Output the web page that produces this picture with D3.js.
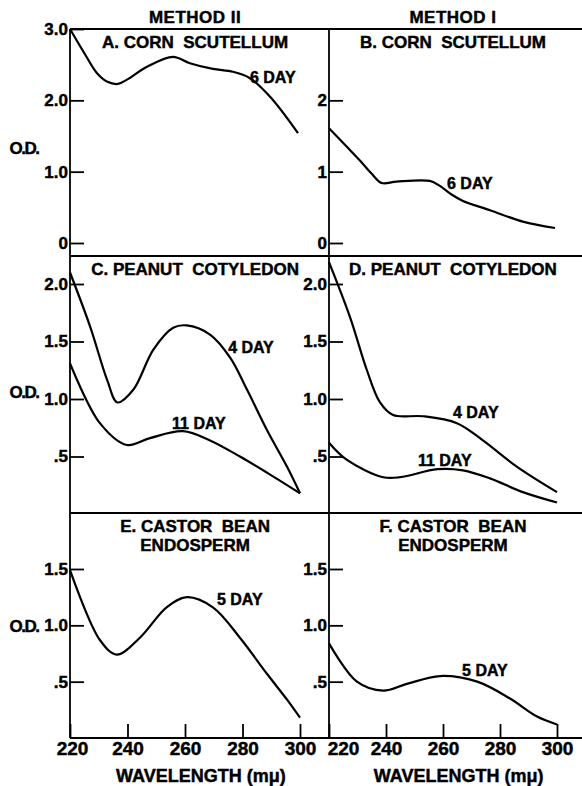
<!DOCTYPE html>
<html lang="en">
<head>
    <meta charset="UTF-8">
    <title>Absorption spectra - Method I and II</title>
    <script src="https://cdnjs.cloudflare.com/ajax/libs/d3/7.8.5/d3.min.js"></script>
    <style>
        body {
            margin: 0;
            background: #fff;
        }
        svg text {
            font-family: "Liberation Sans", Arial, sans-serif;
            font-weight: bold;
            fill: #000;
            stroke: #000;
            stroke-width: 0.45px;
        }
        .curve {
            fill: none;
            stroke: #000;
            stroke-width: 2.2px;
            stroke-linejoin: round;
        }
        .frame {
            stroke: #000;
            stroke-width: 1.8px;
        }
    </style>
</head>
<body>
    <svg id="chart" width="582" height="786"></svg>

    <script>
        // wavelength (m\u03bc) vs optical density
        const wavelengthTicks = [220, 240, 260, 280, 300];

        const cornMethod2Day6 = [[220, 3.0], [225, 2.66], [229.4, 2.38], [233, 2.26], [236.7, 2.23], [239.8, 2.29], [246.8, 2.47], [255.8, 2.61],
            [261.7, 2.52], [269.7, 2.44], [276.7, 2.40], [282.6, 2.31], [289.6, 2.05], [299.3, 1.54]];
        const cornMethod1Day6 = [[220, 1.61], [226, 1.36], [231, 1.15], [235, 0.97], [238.5, 0.84], [243.7, 0.86], [255.4, 0.87],
            [258.9, 0.80], [263, 0.68], [267, 0.59], [276.5, 0.46], [288, 0.30], [299.3, 0.21]];

        const peanutMethod2Day4 = [[220, 2.10], [227, 1.63], [233, 1.16], [236.5, 0.97], [242, 1.08], [249, 1.43],
            [255.9, 1.62], [260.6, 1.64], [268.7, 1.56], [275.7, 1.36], [281.6, 1.08], [288.5, 0.73], [295.5, 0.41], [300, 0.18]];
        const peanutMethod2Day11 = [[220, 1.31], [230.4, 0.79], [239.8, 0.60], [247.8, 0.66], [259.3, 0.72], [268.7, 0.64],
            [279.1, 0.50], [288.5, 0.36], [300, 0.18]];
        const peanutMethod1Day4 = [[220, 2.19], [227.4, 1.71], [233.3, 1.25], [237.9, 0.97], [242.5, 0.86], [253, 0.85],
            [264.9, 0.79], [274, 0.64], [286, 0.41], [300, 0.19]];
        const peanutMethod1Day11 = [[220, 0.62], [226.3, 0.47], [239, 0.32], [245, 0.32], [258, 0.39], [267, 0.38],
            [276.5, 0.31], [288, 0.19], [300, 0.10]];

        const castorMethod2Day5 = [[220, 1.49], [230.4, 0.87], [236.3, 0.74], [244.3, 0.89], [253.6, 1.16], [260.6, 1.25],
            [269.7, 1.16], [279.1, 0.89], [288.5, 0.57], [295.5, 0.34], [300, 0.18]];
        const castorMethod1Day5 = [[220, 0.84], [229.8, 0.50], [239, 0.42], [247.3, 0.48], [259, 0.55], [272, 0.50],
            [283.5, 0.35], [293, 0.19], [300, 0.12]];

        const methodTitles = ["METHOD II", "METHOD I"];

        const svg = d3.select("#chart");

        const columns = [
            d3.scaleLinear().domain([220, 300]).range([70, 300]),
            d3.scaleLinear().domain([220, 300]).range([329, 557])
        ];
        const rows = [
            { y: d3.scaleLinear().domain([0, 3]).range([243, 29]), top: 29, bottom: 256 },
            { y: d3.scaleLinear().domain([0, 2]).range([514, 284]), top: 256, bottom: 513 },
            { y: d3.scaleLinear().domain([0, 1.5]).range([738, 569]), top: 513, bottom: 738 }
        ];

        const panels = [
            { col: 0, row: 0, title: ["A. CORN  SCUTELLUM"], od: 1.33, ticks: [0, 1, 2, 3], fmt: d => d.toFixed(1).replace("0.0", "0"),
              series: [{ data: cornMethod2Day6, label: "6 DAY", at: [282.6, 2.33] }] },
            { col: 1, row: 0, title: ["B. CORN  SCUTELLUM"], ticks: [0, 1, 2], fmt: d => String(d),
              series: [{ data: cornMethod1Day6, label: "6 DAY", at: [261.4, 0.84] }] },
            { col: 0, row: 1, title: ["C. PEANUT  COTYLEDON"], od: 1.06, ticks: [0.5, 1, 1.5, 2], fmt: d => d === 0.5 ? ".5" : d.toFixed(1),
              series: [{ data: peanutMethod2Day4, label: "4 DAY", at: [275, 1.45] },
                       { data: peanutMethod2Day11, label: "11 DAY", at: [255.5, 0.79] }] },
            { col: 1, row: 1, title: ["D. PEANUT  COTYLEDON"], ticks: [0.5, 1, 1.5, 2], fmt: d => d === 0.5 ? ".5" : d.toFixed(1),
              series: [{ data: peanutMethod1Day4, label: "4 DAY", at: [263.5, 0.89] },
                       { data: peanutMethod1Day11, label: "11 DAY", at: [251.2, 0.47] }] },
            { col: 0, row: 2, title: ["E. CASTOR  BEAN", "ENDOSPERM"], od: 0.99, ticks: [0.5, 1, 1.5], fmt: d => d === 0.5 ? ".5" : d.toFixed(1),
              series: [{ data: castorMethod2Day5, label: "5 DAY", at: [271.1, 1.23] }] },
            { col: 1, row: 2, title: ["F. CASTOR  BEAN", "ENDOSPERM"], ticks: [0.5, 1, 1.5], fmt: d => d === 0.5 ? ".5" : d.toFixed(1),
              series: [{ data: castorMethod1Day5, label: "5 DAY", at: [266.7, 0.60] }] }
        ];

        // frame: horizontal rules and the two vertical axes
        const rules = [29, 256, 513, 738];
        svg.selectAll("line.rule").data(rules).enter().append("line")
            .attr("class", "frame rule")
            .attr("x1", 70).attr("x2", 582)
            .attr("y1", d => d).attr("y2", d => d);

        columns.forEach(x => {
            svg.append("line").attr("class", "frame")
                .attr("x1", x(220)).attr("x2", x(220))
                .attr("y1", 29).attr("y2", 738);
        });

        // method headers
        methodTitles.forEach((t, i) => {
            svg.append("text")
                .attr("x", columns[i](263.5)).attr("y", 23)
                .attr("text-anchor", "middle")
                .style("font-size", "17px")
                .style("letter-spacing", "0.5px")
                .text(t);
        });

        const line = d3.line().curve(d3.curveCatmullRom.alpha(0.5));

        panels.forEach(p => {
            const x = columns[p.col];
            const row = rows[p.row];
            const y = row.y;
            const g = svg.append("g");

            // y ticks inside, labels outside
            const yAxis = g.append("g")
                .attr("transform", `translate(${x(220)},0)`)
                .call(d3.axisLeft(y).tickValues(p.ticks).tickSizeInner(-14).tickSizeOuter(0).tickPadding(2).tickFormat(p.fmt));
            yAxis.select(".domain").remove();
            yAxis.attr("font-family", null).attr("font-size", null);
            yAxis.selectAll(".tick line").attr("stroke", "#000").attr("stroke-width", 1.8);
            yAxis.selectAll(".tick text").style("font-size", "17px").attr("fill", "#000");

            // title
            p.title.forEach((t, i) => {
                g.append("text")
                    .attr("x", x(263.5))
                    .attr("y", row.top + 19 + i * 19)
                    .attr("text-anchor", "middle")
                    .style("font-size", "17px")
                    .style("white-space", "pre")
                    .text(t);
            });

            if (p.od !== undefined) {
                g.append("text")
                    .attr("x", 24).attr("y", y(p.od) + 6)
                    .attr("text-anchor", "middle")
                    .style("font-size", "17px")
                    .style("letter-spacing", "-1.5px")
                    .text("O.D.");
            }

            p.series.forEach(s => {
                g.append("path")
                    .attr("class", "curve")
                    .attr("d", line(s.data.map(d => [x(d[0]), y(d[1])])));
                g.append("text")
                    .attr("x", x(s.at[0])).attr("y", y(s.at[1]) + 6)
                    .style("font-size", "16px")
                    .text(s.label);
            });

            // x axis only on the bottom row
            if (p.row === 2) {
                const xAxis = g.append("g")
                    .attr("transform", `translate(0,${row.bottom})`)
                    .call(d3.axisBottom(x).tickValues(wavelengthTicks).tickSizeInner(-14).tickSizeOuter(0).tickPadding(3));
                xAxis.select(".domain").remove();
                xAxis.attr("font-family", null).attr("font-size", null);
                xAxis.selectAll(".tick line").attr("stroke", "#000").attr("stroke-width", 1.8);
                xAxis.selectAll(".tick text").style("font-size", "19px").attr("fill", "#000")
                    .attr("dx", d => (p.col === 1 && d === 220) ? 14 : (d === 220 ? 2 : 0));

                g.append("text")
                    .attr("x", x(265.5)).attr("y", 782)
                    .attr("text-anchor", "middle")
                    .style("font-size", "18px")
                    .text("WAVELENGTH (m\u03bc)");
            }
        });
    </script>
</body>
</html>
